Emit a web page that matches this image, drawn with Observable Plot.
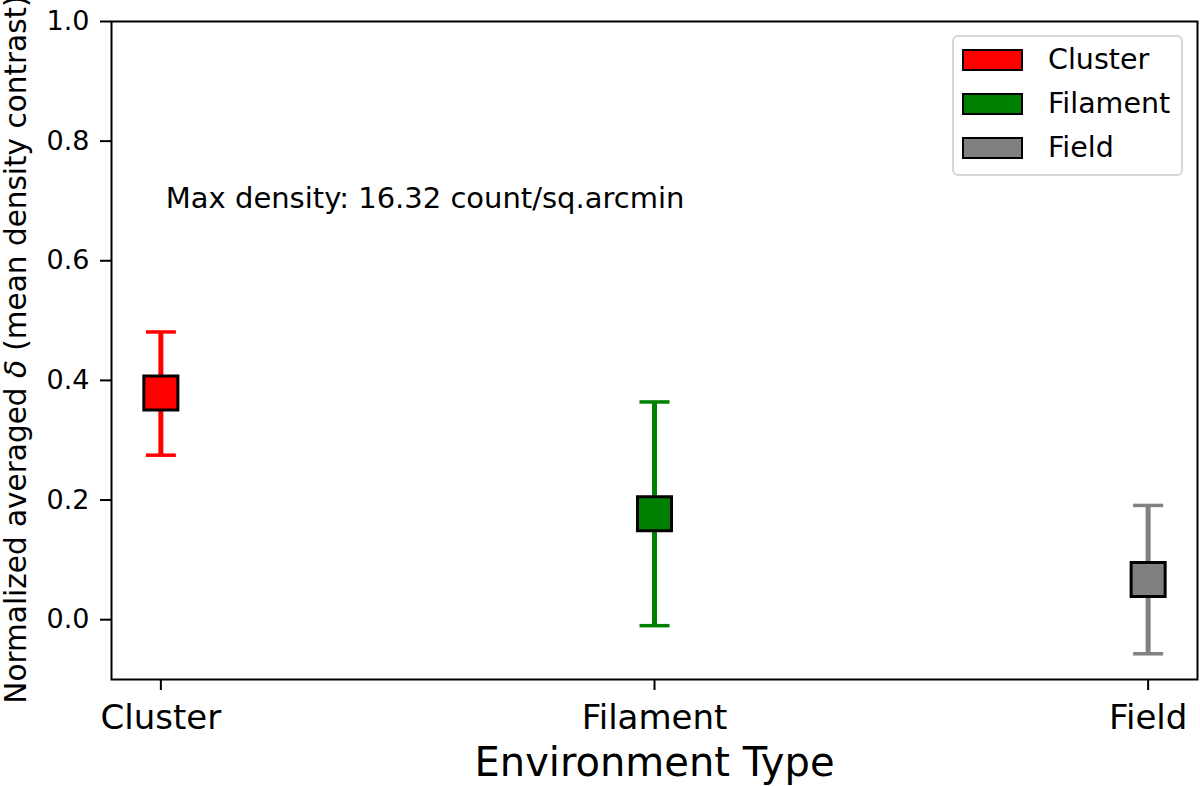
<!DOCTYPE html>
<html><head><meta charset="utf-8">
<script src="https://cdn.jsdelivr.net/npm/d3@7"></script>
<script src="https://cdn.jsdelivr.net/npm/@observablehq/plot@0.6"></script>
<style>
body{margin:0;background:#fff;font-family:"DejaVu Sans",sans-serif;}
#wrap{position:relative;width:1200px;height:786px;}
#legend{position:absolute;left:952px;top:35px;width:227px;height:137px;border:2px solid #d6d6d6;border-radius:6px;background:rgba(255,255,255,0.8);}
.row{position:absolute;left:8px;height:22px;display:flex;align-items:center;}
.sw{width:57px;height:18px;border:2px solid #000;}
.lb{margin-left:25px;font-size:28.5px;color:#000;line-height:22px;}
</style></head><body><div id="wrap"></div>
<script>
const categories = ["Cluster", "Filament", "Field"];
const means = [0.379, 0.177, 0.067];
const errLow = [0.275, -0.010, -0.057];
const errHigh = [0.481, 0.364, 0.191];
const colors = ["#ff0000", "#008000", "#808080"];
const yTicks = [0, 0.2, 0.4, 0.6, 0.8, 1.0];
const xTicks = [0, 1, 2];
const annotation = "Max density: 16.32 count/sq.arcmin";
const yLabel = "Normalized averaged δ (mean density contrast)";
const xLabel = "Environment Type";

const data = categories.map((c, i) => ({i, c, m: means[i], lo: errLow[i], hi: errHigh[i], color: colors[i]}));
const hline = {draw(ctx, size){const r = Math.sqrt(size / Math.PI); ctx.moveTo(-r, 0); ctx.lineTo(r, 0);}};

const chart = Plot.plot({
  width: 1200, height: 786,
  marginLeft: 111, marginRight: 3, marginTop: 21, marginBottom: 107,
  style: {fontFamily: "'DejaVu Sans', sans-serif", background: "#fff", color: "#000"},
  x: {type: "linear", domain: [-0.1, 2.1]},
  y: {domain: [-0.1, 1.0]},
  marks: [
    Plot.ruleX(data, {x: "i", y1: "lo", y2: "hi", stroke: "color", strokeWidth: 5}),
    Plot.dot(data, {x: "i", y: "lo", symbol: hline, r: 15, stroke: "color", strokeWidth: 3.5, fill: "none"}),
    Plot.dot(data, {x: "i", y: "hi", symbol: hline, r: 15, stroke: "color", strokeWidth: 3.5, fill: "none"}),
    Plot.dot(data, {x: "i", y: "m", symbol: "square", r: 19.2, fill: "color", stroke: "#000", strokeWidth: 3}),
    Plot.text([annotation], {x: 0.01, y: 0.703, text: d => d, textAnchor: "start", lineAnchor: "middle", fontSize: 29, fill: "#000"}),
    Plot.axisX({ticks: xTicks, tickFormat: i => categories[i], tickSize: 11, tickPadding: 14, fontSize: 34, strokeWidth: 2, label: null}),
    Plot.axisY({ticks: yTicks, tickFormat: d3.format(".1f"), tickSize: 11, tickPadding: 11, fontSize: 27, strokeWidth: 2, label: null}),
    Plot.text([xLabel], {frameAnchor: "bottom", text: d => d, textAnchor: "middle", lineAnchor: "top", dy: 67.6, fontSize: 40, fill: "#000"}),
    Plot.text([yLabel], {frameAnchor: "left", text: d => d, rotate: -90, dx: -95, dy: -1, textAnchor: "middle", lineAnchor: "middle", fontSize: 29.5, fill: "#000"}),
    Plot.frame({stroke: "#000", strokeWidth: 2})
  ]
});
document.getElementById("wrap").appendChild(chart);

// italic delta
d3.select(chart).selectAll("text").each(function(){
  const t = d3.select(this);
  const s = t.text();
  if (s === yLabel) {
    const parts = s.split("δ");
    t.text(null);
    t.append("tspan").text(parts[0]);
    t.append("tspan").attr("font-style", "italic").text("δ");
    t.append("tspan").text(parts[1]);
  }
});

const legend = d3.select("#wrap").append("div").attr("id", "legend");
categories.forEach((c, i) => {
  const row = legend.append("div").attr("class", "row").style("top", (12 + 44 * i) + "px");
  row.append("div").attr("class", "sw").style("background", colors[i]);
  row.append("div").attr("class", "lb").text(c);
});
</script></body></html>
